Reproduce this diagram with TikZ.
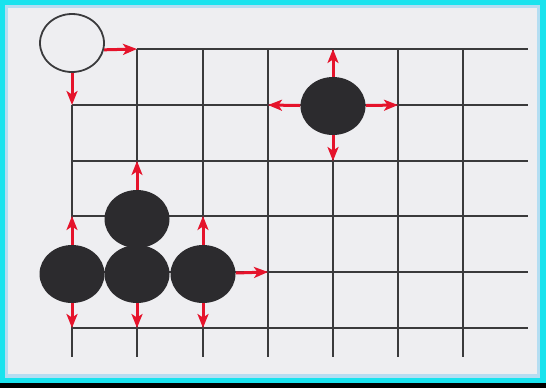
\documentclass[tikz,border=0pt]{standalone}
\usepackage{tikz}
\usetikzlibrary{arrows.meta,shapes.geometric}
\definecolor{gored}{HTML}{E5132B}
\definecolor{gogrid}{HTML}{3A3A3C}
\definecolor{gostone}{HTML}{2C2B2E}
\definecolor{gopaper}{HTML}{EEEEF1}
\definecolor{gocyan}{HTML}{19E3EE}
\definecolor{goedge}{HTML}{B4DDF2}

\begin{document}
\begin{tikzpicture}[x=0.5pt,y=-0.5pt,
  grid/.style={gogrid,line width=1pt},
  stone/.style={ellipse,fill=gostone,inner sep=0pt,minimum width=32.5pt,minimum height=29pt},
  hole/.style={ellipse,draw=gogrid,line width=0.9pt,inner sep=0pt,minimum width=32pt,minimum height=29pt},
  lib/.style={-{Stealth[length=7pt,width=5.5pt,inset=1.8pt]},gored,line width=1.5pt}]
\useasboundingbox (0,0) rectangle (546,388);
\fill[black] (0,0) rectangle (546,388);
\fill[gocyan] (0,0) rectangle (546,383);
\fill[goedge] (5,5) rectangle (540,378);
\fill[gopaper] (8,8) rectangle (537,374);
% board
\foreach \x/\i in {72/1,137/2,203/3,268/4,333/5,398/6,463/7}
  \foreach \y/\j in {49/1,105/2,161/3,216/4,272/5,328/6}
    \coordinate (g-\i-\j) at (\x,\y);
\draw[grid] (137,49) -- (528,49);
\foreach \y in {105,161,216,272,328} \draw[grid] (72,\y) -- (528,\y);
\draw[grid] (72,105) -- (72,357);
\foreach \x in {137,203,268,333,398,463} \draw[grid] (\x,49) -- (\x,357);
% stones
\node[hole] (start) at (72,43) {};
\node[stone] (a) at (72,274) {};
\node[stone] (b) at (137,274) {};
\node[stone] (c) at (203,274) {};
\node[stone] (d) at (137,219) {};
\node[stone] (e) at (333,106) {};
% liberties
\draw[lib] (start.-12) -- (g-2-1);
\draw[lib] (start) -- (g-1-2);
\draw[lib] (a) -- (g-1-4);
\draw[lib] (a) -- (g-1-6);
\draw[lib] (b) -- (g-2-6);
\draw[lib] (c) -- (g-3-4);
\draw[lib] (c) -- (g-4-5);
\draw[lib] (c) -- (g-3-6);
\draw[lib] (d) -- (g-2-3);
\draw[lib] (e) -- (g-5-1);
\draw[lib] (e) -- (g-4-2);
\draw[lib] (e) -- (g-6-2);
\draw[lib] (e) -- (g-5-3);
\end{tikzpicture}
\end{document}
